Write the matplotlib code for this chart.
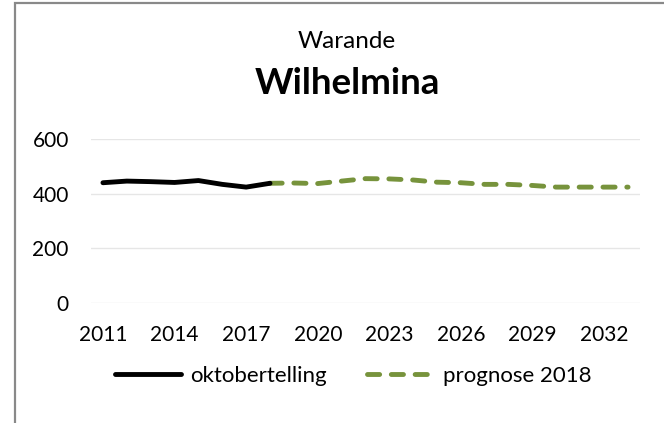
import matplotlib

matplotlib.use("Agg")
import matplotlib.pyplot as plt
from matplotlib.lines import Line2D
from matplotlib.patches import Rectangle

plt.rcParams["font.family"] = ["Lato", "DejaVu Sans"]

# data
years = [str(y) for y in range(2011, 2034)]
tick_years = ["2011", "2014", "2017", "2020", "2023", "2026", "2029", "2032"]
telling_years = years[:8]
telling = [440, 446, 444, 441, 448, 434, 424, 438]
prognose_years = years[7:]
prognose = [438, 439, 437, 446, 455, 454, 450, 442,
            440, 434, 434, 430, 424, 424, 424, 424]
y_ticks = [0, 200, 400, 600]

GREEN = "#77933C"
DASH = (2.5, 2.4)
W, H = 664, 423

fig = plt.figure(figsize=(W / 100, H / 100), dpi=100)
ax = fig.add_axes([91 / W, 1 - 303 / H, (640 - 91) / W, (303 - 139) / H])

ax.plot(telling_years, telling, color="black", lw=3.5,
        solid_capstyle="round", solid_joinstyle="round", zorder=3)
ax.plot(prognose_years, prognose, color=GREEN, lw=3.5, dashes=DASH,
        dash_capstyle="round", zorder=2)

ax.set_xlim(-0.5, len(years) - 0.5)
ax.set_xticks(tick_years)
ax.set_ylim(0, 600)
ax.set_yticks(y_ticks)
ax.grid(axis="y", color="#E6E6E6", lw=1)
ax.set_axisbelow(True)
for s in ax.spines.values():
    s.set_visible(False)
ax.tick_params(axis="both", length=0, labelsize=15, colors="black")
ax.tick_params(axis="y", pad=16)
ax.tick_params(axis="x", pad=16)

fig.text(347 / W, 1 - 48 / H, "Warande", ha="center", va="baseline", fontsize=17.5)
fig.text(347 / W, 1 - 94 / H, "Wilhelmina", ha="center", va="baseline",
         fontsize=26.5, fontweight="bold")

handles = [
    Line2D([], [], color="black", lw=3.5, solid_capstyle="round"),
    Line2D([], [], color=GREEN, lw=3.5, dashes=DASH, dash_capstyle="round"),
]
fig.legend(handles, ["oktobertelling", "prognose 2018"], ncol=2, frameon=False,
           loc="center", bbox_to_anchor=(353 / W, 1 - 376 / H), fontsize=16,
           handlelength=3.0, handletextpad=0.4, columnspacing=1.8)

# chart border, only the left and top edges are inside the crop
fig.add_artist(Rectangle((15 / W, -0.2), 1.0, 1.2 - 3 / H, transform=fig.transFigure,
                         fill=False, edgecolor="#898989", lw=1.6))

fig.savefig("out.png", dpi=100)
